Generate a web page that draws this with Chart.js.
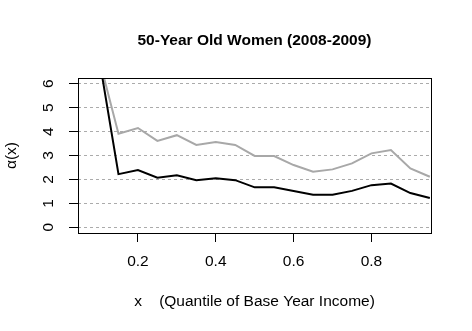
<!DOCTYPE html>
<html>
<head>
<meta charset="utf-8">
<script src="https://cdn.jsdelivr.net/npm/chart.js@4"></script>
<style>
  html, body { margin: 0; padding: 0; background: #fff; }
</style>
</head>
<body>
<canvas id="womenChart" width="472" height="331"></canvas>
<script>
// quantile grid and the two curves
const xQuantiles = [0.10, 0.15, 0.20, 0.25, 0.30, 0.35, 0.40, 0.45, 0.50, 0.55, 0.60, 0.65, 0.70, 0.75, 0.80, 0.85, 0.90, 0.95];
const blackCurve = [7.1, 2.22, 2.39, 2.07, 2.17, 1.97, 2.05, 1.97, 1.67, 1.67, 1.52, 1.36, 1.36, 1.52, 1.76, 1.83, 1.43, 1.22];
const greyCurve = [7.06, 3.91, 4.15, 3.61, 3.85, 3.44, 3.56, 3.44, 2.98, 2.98, 2.60, 2.32, 2.42, 2.67, 3.09, 3.23, 2.46, 2.11];
const xTickValues = [0.2, 0.4, 0.6, 0.8];
const yTickValues = [0, 1, 2, 3, 4, 5, 6];

const FONT = '"Liberation Sans", Arial, sans-serif';

function toPoints(values) {
    return values.map((v, i) => ({ x: xQuantiles[i], y: v }));
}

// R style box around the plot area
const boxPlugin = {
    id: 'box',
    afterDraw(chart) {
        const a = chart.chartArea;
        const ctx = chart.ctx;
        ctx.save();
        ctx.strokeStyle = '#000';
        ctx.lineWidth = 1;
        ctx.strokeRect(Math.round(a.left) + 0.5, Math.round(a.top) + 0.5,
            Math.round(a.right - a.left), Math.round(a.bottom - a.top));
        ctx.restore();
    }
};

new Chart(document.getElementById('womenChart').getContext('2d'), {
    type: 'line',
    data: {
        datasets: [
            {
                data: toPoints(blackCurve),
                borderColor: '#000000',
                borderWidth: 2,
                pointRadius: 0,
                tension: 0,
                clip: 0
            },
            {
                data: toPoints(greyCurve),
                borderColor: '#a8a8a8',
                borderWidth: 2,
                pointRadius: 0,
                tension: 0,
                clip: 0
            }
        ]
    },
    options: {
        responsive: false,
        animation: false,
        devicePixelRatio: 1,
        layout: { padding: { left: 0, right: 41, top: 0, bottom: 0 } },
        plugins: {
            legend: { display: false },
            tooltip: { enabled: false },
            title: {
                display: true,
                fullSize: false,
                text: '50-Year Old Women (2008-2009)',
                color: '#000',
                font: { family: FONT, size: 15.5, weight: 'bold' },
                padding: { top: 31, bottom: 28.4 }
            }
        },
        scales: {
            x: {
                type: 'linear',
                min: 0.046,
                max: 0.953,
                afterBuildTicks: scale => { scale.ticks = xTickValues.map(v => ({ value: v })); },
                afterFit: scale => { scale.height = 98; },
                grid: { drawOnChartArea: false, drawTicks: true, tickLength: 9, tickColor: '#000', color: '#000' },
                border: { display: false },
                ticks: {
                    color: '#000',
                    font: { family: FONT, size: 15.5 },
                    padding: 10.5,
                    maxRotation: 0,
                    autoSkip: false,
                    callback: v => v.toFixed(1)
                },
                title: {
                    display: true,
                    text: 'x    (Quantile of Base Year Income)',
                    color: '#000',
                    font: { family: FONT, size: 15.5 },
                    padding: { top: 0, bottom: 19.5 }
                }
            },
            y: {
                type: 'linear',
                min: -0.24,
                max: 6.24,
                afterBuildTicks: scale => { scale.ticks = yTickValues.map(v => ({ value: v })); },
                afterFit: scale => { scale.width = 78; },
                grid: {
                    drawOnChartArea: true,
                    drawTicks: true,
                    tickLength: 9,
                    color: '#ababab',
                    tickColor: '#000',
                    tickBorderDash: []
                },
                border: { display: false, dash: [3, 3] },
                ticks: {
                    color: '#000',
                    font: { family: FONT, size: 15.5 },
                    padding: 16,
                    minRotation: 90,
                    maxRotation: 90,
                    crossAlign: 'center',
                    autoSkip: false,
                    callback: v => String(v)
                },
                title: {
                    display: true,
                    text: 'α(x)',
                    color: '#000',
                    font: { family: FONT, size: 15.5 },
                    padding: { top: 2.7, bottom: 0 }
                }
            }
        }
    },
    plugins: [boxPlugin]
});
</script>
</body>
</html>
